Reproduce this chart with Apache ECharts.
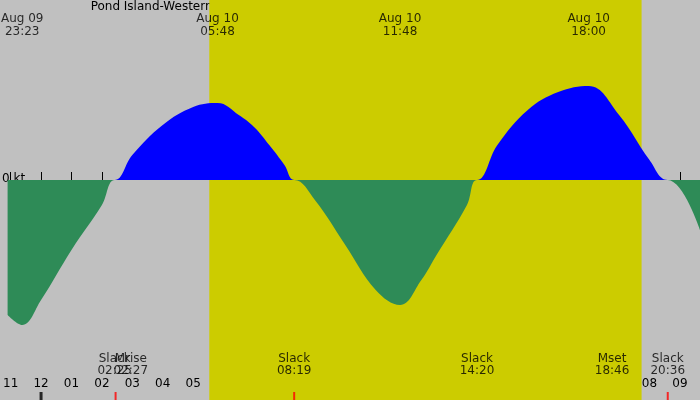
<!DOCTYPE html>
<html>
  <head>
    <meta charset="utf-8" />
    <script src="https://cdn.jsdelivr.net/npm/echarts@6.0.0/dist/echarts.min.js"></script>
  </head>
  <body style="margin:0">
    <div id="main" style="width: 700px;height:400px;"></div>
    <script type="text/javascript">
      // hours from midnight Aug 10, current in knots
      var hours = [-1.1, -0.62, 0, 1, 2, 2.42, 3, 4, 5, 5.8, 6.5, 7, 7.5, 8, 8.32, 9, 10, 11, 11.8, 12.5, 13, 14, 14.33, 15, 16, 17, 18, 19, 20, 20.6, 21.66];
      var knots = [-1.35, -1.45, -1.2, -0.7, -0.25, 0, 0.25, 0.55, 0.73, 0.77, 0.65, 0.53, 0.35, 0.15, 0, -0.2, -0.65, -1.1, -1.25, -1.0, -0.75, -0.25, 0, 0.35, 0.7, 0.88, 0.94, 0.65, 0.2, 0, -0.5];
      var topLabels = [[-0.62, 'Aug 09\n23:23'], [5.8, 'Aug 10\n05:48'], [11.8, 'Aug 10\n11:48'], [18, 'Aug 10\n18:00']];
      var eventLabels = [[2.42, 'Slack\n02:25'], [2.95, 'Mrise\n02:27'], [8.32, 'Slack\n08:19'], [14.33, 'Slack\n14:20'], [18.77, 'Mset\n18:46'], [20.6, 'Slack\n20:36']];
      var redTicks = [2.45, 8.32, 20.6];
      var hourTicks = [];
      for (var h = -1; h <= 21; h++) hourTicks.push(h);
      var dayStart = 5.53, dayEnd = 19.74;

      var myChart = echarts.init(document.getElementById('main'));
      var pos = hours.map(function (h, i) { return [h, Math.max(knots[i], 0)]; });
      var neg = hours.map(function (h, i) { return [h, Math.min(knots[i], 0)]; });
      var font = 'DejaVu Sans';

      option = {
        backgroundColor: '#c0c0c0',
        animation: false,
        textStyle: { fontFamily: font },
        grid: { left: 0, right: 0, top: 0, bottom: 0 },
        xAxis: {
          type: 'value', min: -1.1, max: 21.66,
          splitLine: { show: false },
          axisLine: { show: false },
          axisTick: { show: true, inside: true, length: 8, customValues: hourTicks, lineStyle: { color: '#000' } },
          axisLabel: {
            inside: true, customValues: hourTicks, color: '#000', fontSize: 12, margin: 10,
            formatter: function (v) { var m = ((Math.round(v) % 12) + 12) % 12; if (m === 0) m = 12; return (m < 10 ? '0' : '') + m; }
          }
        },
        yAxis: { type: 'value', min: -2.2, max: 1.8, show: false },
        graphic: [
          { type: 'text', left: 'center', top: 1, style: { text: 'Pond Island-Western Island, between (depth 14 ft), East Penobscot Bay, Maine Current', font: '12px DejaVu Sans', fill: '#000' } },
          { type: 'text', left: 2, top: 173, style: { text: '0 kt', font: '12px DejaVu Sans', fill: '#000' } }
        ],
        series: [
          {
            type: 'line', data: pos, smooth: 0.4, symbol: 'none', lineStyle: { width: 0 },
            areaStyle: { color: '#0000ff', opacity: 1 },
            markArea: { silent: true, itemStyle: { color: '#cccc00' }, data: [[{ xAxis: dayStart }, { xAxis: dayEnd }]] },
            z: 3
          },
          {
            type: 'line', data: neg, smooth: 0.4, symbol: 'none', lineStyle: { width: 0 },
            areaStyle: { color: '#2e8b57', opacity: 1 }, z: 3
          },
          {
            type: 'scatter', symbolSize: 0, z: 5,
            data: topLabels.map(function (d) { return { value: [d[0], 1.8], label: { formatter: d[1] } }; }),
            label: { show: true, position: 'bottom', distance: 12, color: '#000', fontSize: 12, lineHeight: 13 }
          },
          {
            type: 'scatter', symbolSize: 0, z: 5,
            data: eventLabels.map(function (d) { return { value: [d[0], -1.85], label: { formatter: d[1] } }; }),
            label: { show: true, position: 'inside', color: '#000', fontSize: 12, lineHeight: 12 }
          },
          {
            type: 'scatter', symbol: 'rect', symbolSize: [2, 8], itemStyle: { color: '#ff0000' }, z: 6,
            data: redTicks.map(function (t) { return [t, -2.16]; })
          },
          {
            type: 'scatter', symbol: 'rect', symbolSize: [3, 8], itemStyle: { color: '#000' }, z: 6,
            data: [[0, -2.16]]
          }
        ]
      };
      myChart.setOption(option);
    </script>
  </body>
</html>
